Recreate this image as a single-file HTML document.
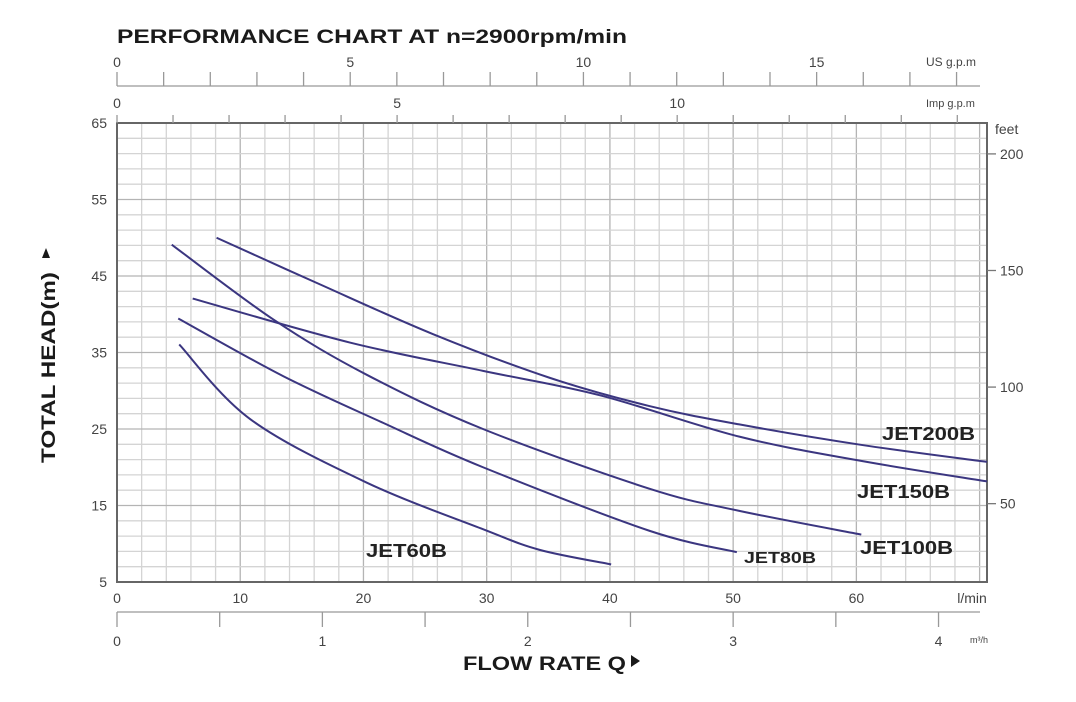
<!DOCTYPE html>
<html><head><meta charset="utf-8"><style>
html,body{margin:0;padding:0;background:#fff;}
svg{display:block;font-family:"Liberation Sans",Arial,sans-serif;}
</style></head><body>
<svg id="chart" width="1076" height="702" viewBox="0 0 1076 702">
<g id="grid"></g>
<g id="axes"></g>
<g id="curves"></g>
<g id="labels"></g>
<text x="117" y="43" font-size="19" font-weight="bold" fill="#1a1a1a" textLength="510" lengthAdjust="spacingAndGlyphs">PERFORMANCE CHART AT n=2900rpm/min</text>
<text transform="translate(55,463) rotate(-90)" font-size="19" font-weight="bold" fill="#1a1a1a" textLength="191" lengthAdjust="spacingAndGlyphs">TOTAL HEAD(m)</text>
<polygon points="42,258 50,258 46,248" fill="#1a1a1a"/>
<text x="463" y="670" font-size="19" font-weight="bold" fill="#1a1a1a" textLength="163" lengthAdjust="spacingAndGlyphs">FLOW RATE Q</text>
<polygon points="631,655 631,667 640,661" fill="#1a1a1a"/>
</svg>
<script>
// ---- data ----
const xTicksLmin = [0,10,20,30,40,50,60];
const yTicksM = [5,15,25,35,45,55,65];
const usGpmLabels = [0,5,10,15];
const impGpmLabels = [0,5,10];
const m3hLabels = [0,1,2,3,4];
const feetLabels = [50,100,150,200];
const seriesNames = ["JET60B","JET80B","JET100B","JET150B","JET200B"];
const jet60Q = [5.05,10.8,20.25,29.7,34.3,40.1];
const jet60H = [36.05,26.3,18.0,11.9,9.2,7.3];
const jet80Q = [4.97,13.5,21.6,29.7,43.2,50.3];
const jet80H = [39.45,31.9,25.8,20.0,11.7,8.9];
const jet100Q = [4.44,12.7,20.25,29.7,43.2,50.5,60.4];
const jet100H = [49.1,39.3,32.1,25.0,17.2,14.3,11.2];
const jet150Q = [6.14,18.9,29.7,39.2,50.5,60.5,70.6];
const jet150H = [42.05,36.3,32.6,29.4,24.0,20.8,18.15];
const jet200Q = [8.08,16.2,25.65,35.1,43.2,50.5,60.5,70.6];
const jet200H = [50.0,44.1,37.4,31.7,28.0,25.6,22.9,20.7];

// ---- scales ----
const X0=117, X1=987, Y0=123, Y1=582;
const QMAX=70.6, HMIN=5, HMAX=65;
function sx(q){return X0+(q/QMAX)*(X1-X0);}
function sy(h){return Y1-(h-HMIN)/(HMAX-HMIN)*(Y1-Y0);}
const NS="http://www.w3.org/2000/svg";
function mk(tag,attrs,parent,txt){const e=document.createElementNS(NS,tag);for(const k in attrs)e.setAttribute(k,attrs[k]);if(txt!==undefined)e.textContent=txt;parent.appendChild(e);return e;}
const grid=document.getElementById('grid'),axes=document.getElementById('axes'),curves=document.getElementById('curves'),labels=document.getElementById('labels');

// grid
for(let q=2;q<QMAX;q+=2){
  const l=mk('line',{x1:sx(q),x2:sx(q),y1:Y0,y2:Y1,stroke:(q%10===0)?'#b4b4b4':'#d4d4d4','stroke-width':1.3},grid);
  
  
}
for(let h=7;h<HMAX;h+=2){
  const l=mk('line',{x1:X0,x2:X1,y1:sy(h),y2:sy(h),stroke:((h-5)%10===0)?'#b4b4b4':'#d4d4d4','stroke-width':1.3},grid);
  
  
}
const frame=mk('rect',{x:X0,y:Y0,width:X1-X0,height:Y1-Y0,fill:'none',stroke:'#666','stroke-width':2},axes);



const tc='#444';
// l/min labels
xTicksLmin.forEach(v=>{const t=mk('text',{x:sx(v),y:603,'font-size':14,'text-anchor':'middle',fill:tc},axes,String(v));
  
  });
const lm=mk('text',{x:972,y:603,'font-size':14,'text-anchor':'middle',fill:tc},axes,'l/min');


// y labels
yTicksM.forEach(v=>{const t=mk('text',{x:107,y:sy(v)+5,'font-size':14,'text-anchor':'end',fill:tc},axes,String(v));
  
  });

// US gpm axis
const US=3.785, IMP=4.546, FT=0.3048;
const usAx=mk('line',{x1:X0,x2:980,y1:86,y2:86,stroke:'#999','stroke-width':1.3},axes);


for(let g=0;g<=18;g++){const t=mk('line',{x1:sx(g*US),x2:sx(g*US),y1:86,y2:72,stroke:'#999','stroke-width':1.3},axes);
  
  }
usGpmLabels.forEach(v=>{const t=mk('text',{x:sx(v*US),y:67,'font-size':14,'text-anchor':'middle',fill:tc},axes,String(v));
  
  });
const usU=mk('text',{x:926,y:66,'font-size':12,fill:tc},axes,'US g.p.m');


// Imp gpm axis
for(let g=0;g<=15;g++){const t=mk('line',{x1:sx(g*IMP),x2:sx(g*IMP),y1:Y0,y2:115,stroke:'#999','stroke-width':1.3},axes);
  
  }
impGpmLabels.forEach(v=>{const t=mk('text',{x:sx(v*IMP),y:108,'font-size':14,'text-anchor':'middle',fill:tc},axes,String(v));
  
  });
const impU=mk('text',{x:926,y:107,'font-size':11,fill:tc},axes,'Imp g.p.m');


// m3/h axis
const m3Ax=mk('line',{x1:X0,x2:980,y1:612,y2:612,stroke:'#999','stroke-width':1.3},axes);


for(let m=0;m<=8;m++){const q=m*0.5*1000/60;const t=mk('line',{x1:sx(q),x2:sx(q),y1:612,y2:627,stroke:'#999','stroke-width':1.3},axes);
  
  }
m3hLabels.forEach(v=>{const t=mk('text',{x:sx(v*1000/60),y:646,'font-size':14,'text-anchor':'middle',fill:tc},axes,String(v));
  
  });
const m3U=mk('text',{x:970,y:643,'font-size':9,fill:tc},axes,'m³/h');


// feet axis
const ftU=mk('text',{x:995,y:134,'font-size':14,fill:tc},axes,'feet');


feetLabels.forEach(v=>{const y=sy(v*FT);
  const t=mk('line',{x1:X1,x2:996,y1:y,y2:y,stroke:'#777','stroke-width':1.3},axes);
  
  
  const l=mk('text',{x:1000,y:y+5,'font-size':14,fill:tc},axes,String(v));
  
  });

// curves (Catmull-Rom)
function pathFor(Q,H){const p=Q.map((q,i)=>[sx(q),sy(H[i])]);let d='M'+p[0][0]+','+p[0][1];
  for(let i=0;i<p.length-1;i++){const a=p[i-1]||p[i],b=p[i],c=p[i+1],e=p[i+2]||c;
    const c1=[b[0]+(c[0]-a[0])/6,b[1]+(c[1]-a[1])/6],c2=[c[0]-(e[0]-b[0])/6,c[1]-(e[1]-b[1])/6];
    d+=' C'+c1+' '+c2+' '+c;}return d;}
const allQ=[jet60Q,jet80Q,jet100Q,jet150Q,jet200Q], allH=[jet60H,jet80H,jet100H,jet150H,jet200H];
allQ.forEach((Q,i)=>{const p=mk('path',{d:pathFor(Q,allH[i]),fill:'none',stroke:'#3b3680','stroke-width':2},curves);
  
  });

// series labels
const labPos=[[366,557,18,81],[744,563,16,72],[860,554,18,93],[857,498,18,93],[882,440,18,93]];
seriesNames.forEach((n,i)=>{const [x,y,fs,w]=labPos[i];
  const t=mk('text',{x:x,y:y,'font-size':fs,'font-weight':'bold',fill:'#222',textLength:w,lengthAdjust:'spacingAndGlyphs'},labels,n);
  
  });
</script>
</body></html>
